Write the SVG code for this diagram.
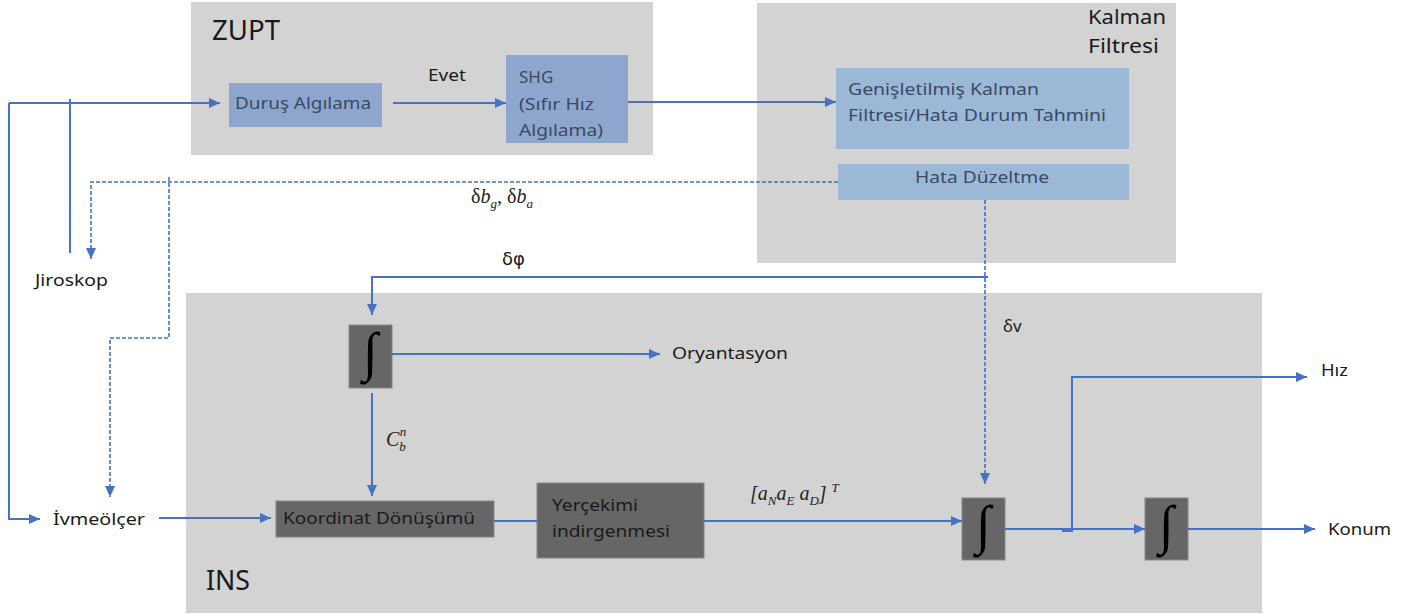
<svg xmlns="http://www.w3.org/2000/svg" width="1419" height="615" viewBox="0 0 1419 615">
<defs>
<marker id="ah" markerUnits="userSpaceOnUse" markerWidth="12" markerHeight="10" refX="11" refY="5" orient="auto"><path d="M0,0 L11,5 L0,10 Z" fill="#4472c4"/></marker>
<style>
.grp{fill:#d3d3d3}
.b1{fill:#8ea6cd}
.b2{fill:#9bb8d7}
.dk{fill:#666666;stroke:#888888;stroke-width:1}
.t{font-family:"Noto Sans","Open Sans",sans-serif;font-size:17px;fill:#1a1a1a}
.tb{font-family:"Noto Sans","Open Sans",sans-serif;font-size:17px;fill:#3a4a63}
.big{font-family:"Noto Sans","Open Sans",sans-serif;font-size:28px;fill:#1a1a1a}
.m{font-family:"Liberation Serif","DejaVu Serif",serif;font-size:20px;fill:#222222;font-style:italic}
.int{font-family:"Liberation Serif","DejaVu Serif",serif;font-size:54px;fill:#000}
.c{fill:none;stroke:#4472c4;stroke-width:2}
.d{fill:none;stroke:#4472c4;stroke-width:1.6;stroke-dasharray:4 2}
</style>
</defs>
<g id="zupt"><rect class="grp" x="191" y="2" width="462" height="153"/><text class="big" x="212" y="40" textLength="68" lengthAdjust="spacingAndGlyphs">ZUPT</text></g>
<g id="kalman"><rect class="grp" x="757" y="3" width="419" height="260"/><text class="t" x="1088" y="24" style="font-size:20px" textLength="78" lengthAdjust="spacingAndGlyphs">Kalman</text><text class="t" x="1088" y="53" style="font-size:20px" textLength="71" lengthAdjust="spacingAndGlyphs">Filtresi</text></g>
<g id="ins"><rect class="grp" x="186" y="293" width="1076" height="320"/><text class="big" x="206" y="590" textLength="44" lengthAdjust="spacingAndGlyphs">INS</text></g>
<g id="durus"><rect class="b1" x="229" y="83" width="153" height="44"/><text class="tb" x="235" y="109" textLength="136" lengthAdjust="spacingAndGlyphs">Duruş Algılama</text></g>
<g id="shg"><rect class="b1" x="506" y="55" width="122" height="88"/><text class="tb" x="519" y="83">SHG</text><text class="tb" x="519" y="110" textLength="75" lengthAdjust="spacingAndGlyphs">(Sıfır Hız</text><text class="tb" x="519" y="136" textLength="84" lengthAdjust="spacingAndGlyphs">Algılama)</text></g>
<g id="ekf"><rect class="b2" x="836" y="68" width="293" height="81"/><text class="tb" x="848" y="95" textLength="191" lengthAdjust="spacingAndGlyphs">Genişletilmiş Kalman</text><text class="tb" x="848" y="121" textLength="258" lengthAdjust="spacingAndGlyphs">Filtresi/Hata Durum Tahmini</text></g>
<g id="hata"><rect class="b2" x="838" y="164" width="291" height="36"/><text class="tb" x="915" y="183" textLength="134" lengthAdjust="spacingAndGlyphs">Hata Düzeltme</text></g>
<g id="jiroskop"><text class="t" x="35" y="286" textLength="73" lengthAdjust="spacingAndGlyphs">Jiroskop</text></g>
<g id="ivmeolcer"><text class="t" x="53" y="525" textLength="92" lengthAdjust="spacingAndGlyphs">İvmeölçer</text></g>
<g id="int1"><rect class="dk" x="349" y="325" width="43" height="63"/><text class="int" x="370.5" y="370" text-anchor="middle">∫</text></g>
<g id="koordinat"><rect class="dk" x="276" y="501" width="218" height="36"/><text class="t" x="283" y="524" textLength="192" lengthAdjust="spacingAndGlyphs">Koordinat Dönüşümü</text></g>
<g id="yercekimi"><rect class="dk" x="537" y="483" width="167" height="75"/><text class="t" x="552" y="511" textLength="86" lengthAdjust="spacingAndGlyphs">Yerçekimi</text><text class="t" x="552" y="537" textLength="118" lengthAdjust="spacingAndGlyphs">indirgenmesi</text></g>
<g id="int2"><rect class="dk" x="962" y="498" width="43" height="62"/><text class="int" x="983.5" y="543" text-anchor="middle">∫</text></g>
<g id="int3"><rect class="dk" x="1145" y="498" width="43" height="62"/><text class="int" x="1166.5" y="543" text-anchor="middle">∫</text></g>
<g id="oryantasyon"><text class="t" x="672" y="359" textLength="116" lengthAdjust="spacingAndGlyphs">Oryantasyon</text></g>
<g id="hiz"><text class="t" x="1321" y="376" textLength="27" lengthAdjust="spacingAndGlyphs">Hız</text></g>
<g id="konum"><text class="t" x="1328" y="535" textLength="63" lengthAdjust="spacingAndGlyphs">Konum</text></g>
<g id="connectors">
<path class="c" d="M9 103 H220" marker-end="url(#ah)"/>
<path class="c" d="M9 103 V519 H40" marker-end="url(#ah)"/>
<path class="c" d="M70 99 V253"/>
<path class="c" d="M393 103 H506" marker-end="url(#ah)"/>
<path class="c" d="M628 102 H836" marker-end="url(#ah)"/>
<path class="d" d="M838 182 H91 V259" marker-end="url(#ah)"/>
<path class="d" d="M169 177 V338 H110 V497" marker-end="url(#ah)"/>
<path class="d" d="M985 200 V484" marker-end="url(#ah)"/>
<path class="c" d="M988 277 H372 V315" marker-end="url(#ah)"/>
<path class="c" d="M392 354 H660" marker-end="url(#ah)"/>
<path class="c" d="M372 393 V496" marker-end="url(#ah)"/>
<path class="c" d="M159 518 H271" marker-end="url(#ah)"/>
<path class="c" d="M494 521 H537"/>
<path class="c" d="M704 521 H962" marker-end="url(#ah)"/>
<path class="c" d="M1005 529 H1145" marker-end="url(#ah)"/>
<path class="c" d="M1072 529 V377 H1307" marker-end="url(#ah)"/>
<path class="c" d="M1062 531 H1073"/>
<path class="c" d="M1188 529 H1315" marker-end="url(#ah)"/>
</g>
<g id="labels">
<text class="t" x="428" y="81" textLength="38" lengthAdjust="spacingAndGlyphs">Evet</text>
<text class="m" x="471" y="203"><tspan font-style="normal">δ</tspan>b<tspan font-size="13" dy="5">g</tspan><tspan dy="-5">, </tspan><tspan font-style="normal">δ</tspan>b<tspan font-size="13" dy="5">a</tspan></text>
<text class="t" x="502" y="265" style="font-family:'DejaVu Sans',sans-serif;font-size:18px">δφ</text>
<text class="t" x="1003" y="332">δv</text>
<text class="m" x="386" y="446">C<tspan font-size="13" dy="5">b</tspan><tspan font-size="13" dx="-6" dy="-15">n</tspan></text>
<text class="m" x="750" y="500">[a<tspan font-size="13" dy="5">N</tspan><tspan dy="-5">a</tspan><tspan font-size="13" dy="5">E</tspan><tspan dy="-5"> a</tspan><tspan font-size="13" dy="5">D</tspan><tspan dy="-5">] </tspan><tspan font-size="13" dy="-8">T</tspan></text>
</g>
</svg>
